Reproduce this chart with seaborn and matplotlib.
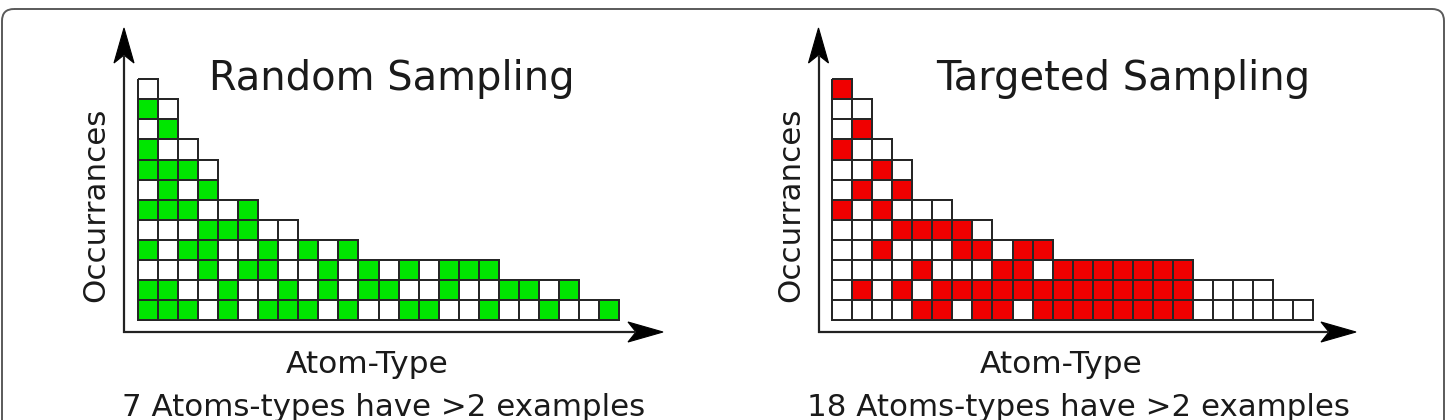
import numpy as np
import matplotlib
matplotlib.use("Agg")
import matplotlib.pyplot as plt
from matplotlib.colors import ListedColormap
from matplotlib.patches import Polygon, FancyBboxPatch
import seaborn as sns

# ---------------- data ----------------
# Each inner list is one atom-type column, cells listed from the bottom up
# (1 = sampled/coloured, 0 = empty box)
random_cells = [
    [1, 1, 0, 1, 0, 1, 0, 1, 1, 0, 1, 0],
    [1, 1, 0, 0, 0, 1, 1, 1, 0, 1, 0],
    [1, 0, 0, 1, 0, 1, 0, 1, 0],
    [0, 0, 1, 1, 1, 0, 1, 0],
    [1, 1, 0, 0, 1, 0],
    [0, 0, 1, 0, 1, 1],
    [1, 0, 1, 1, 0],
    [1, 1, 0, 0, 0],
    [1, 0, 0, 1],
    [0, 1, 1, 0],
    [1, 0, 0, 1],
    [0, 1, 1],
    [0, 1, 0],
    [1, 0, 1],
    [1, 0, 0],
    [0, 1, 1],
    [0, 0, 1],
    [1, 0, 1],
    [0, 1],
    [0, 1],
    [1, 0],
    [0, 1],
    [0],
    [1],
]

targeted_cells = [
    [0, 0, 0, 0, 0, 1, 0, 0, 1, 0, 0, 1],
    [0, 1, 0, 0, 0, 0, 1, 0, 0, 1, 0],
    [0, 0, 0, 1, 0, 1, 0, 1, 0],
    [0, 1, 0, 0, 1, 0, 1, 0],
    [1, 0, 1, 0, 1, 0],
    [1, 1, 0, 0, 1, 0],
    [0, 1, 0, 1, 1],
    [1, 1, 0, 1, 0],
    [1, 1, 1, 0],
    [0, 1, 1, 1],
    [1, 1, 0, 1],
    [1, 1, 1],
    [1, 1, 1],
    [1, 1, 1],
    [1, 1, 1],
    [1, 1, 1],
    [1, 1, 1],
    [1, 1, 1],
    [0, 0],
    [0, 0],
    [0, 0],
    [0, 0],
    [0],
    [0],
]

titles = ["Random Sampling", "Targeted Sampling"]
x_label = "Atom-Type"
y_label = "Occurrances"
captions = ["7 Atoms-types have >2 examples", "18 Atoms-types have >2 examples"]
fill_colors = ["#00e600", "#f00000"]

# ---------------- figure ----------------
sns.set_style("white")
plt.rcParams["font.family"] = ["DejaVu Sans"]

W, H = 1446, 420
fig = plt.figure(figsize=(W / 100, H / 100), dpi=100)
fig.patch.set_facecolor("white")

# overlay axes in pixel coordinates (y downwards)
ov = fig.add_axes([0, 0, 1, 1])
ov.set_xlim(0, W)
ov.set_ylim(H, 0)
ov.axis("off")

# rounded outer frame
frame = FancyBboxPatch((2, 9), W - 4, 460,
                       boxstyle="round,pad=0,rounding_size=12",
                       fill=False, ec="#5a5a5a", lw=1.4)
ov.add_patch(frame)

txt_color = "#1a1a1a"
edge_color = (0.15, 0.15, 0.15, 1.0)
grid_left = [137.8, 832.0]
grid_width = 481.5
grid_bottom = 320.0
n_rows = 12
cell_h = 20.06

axis_x = [124.0, 818.5]
axis_y = 332.0
arrow_tip_x = [663.0, 1356.0]
arrow_tip_y = 28.0
title_cx = [392.0, 1123.0]
xlabel_cx = [367.0, 1061.5]
caption_cx = [384.0, 1078.5]
ylabel_cx = [96.0, 790.5]


def arrow_head(tip, direction):
    tx, ty = tip
    L, hw, notch = 35.0, 10.0, 27.0
    if direction == "right":
        pts = [(tx, ty), (tx - L, ty - hw), (tx - notch, ty), (tx - L, ty + hw)]
    else:  # up
        pts = [(tx, ty), (tx - hw, ty + L), (tx, ty + notch), (tx + hw, ty + L)]
    ov.add_patch(Polygon(pts, closed=True, fc="black", ec="black", lw=0.8,
                         joinstyle="miter"))


for i, (cells, color) in enumerate([(random_cells, fill_colors[0]),
                                    (targeted_cells, fill_colors[1])]):
    n_cols = len(cells)
    mat = np.full((n_rows, n_cols), np.nan)
    for c, col in enumerate(cells):
        for r, v in enumerate(col):
            mat[n_rows - 1 - r, c] = v

    gx = fig.add_axes([grid_left[i] / W, (H - grid_bottom) / H,
                       grid_width / W, (n_rows * cell_h) / H])
    sns.heatmap(mat, ax=gx, cmap=ListedColormap(["white", color]),
                vmin=0, vmax=1, cbar=False, linewidths=1.35,
                linecolor=edge_color, xticklabels=False, yticklabels=False)
    mesh = gx.collections[0]
    valid = ~np.isnan(mat).ravel()
    ecs = np.array([edge_color if v else (0, 0, 0, 0) for v in valid])
    mesh.set_edgecolor(ecs)
    mesh.set_clip_on(False)
    gx.axis("off")

    # axes arrows
    ax0 = axis_x[i]
    ov.plot([ax0, ax0], [axis_y + 1, arrow_tip_y + 27], color="#222222",
            lw=1.6, solid_capstyle="butt")
    ov.plot([ax0 - 0.8, arrow_tip_x[i] - 27], [axis_y, axis_y], color="#222222",
            lw=1.6, solid_capstyle="butt")
    arrow_head((arrow_tip_x[i], axis_y), "right")
    arrow_head((ax0, arrow_tip_y), "up")

    # texts
    ov.text(title_cx[i], 90, titles[i], ha="center", va="baseline",
            fontsize=28.8, color=txt_color)
    ov.text(ylabel_cx[i], 205, y_label, ha="center", va="center",
            rotation=90, fontsize=22.3, color=txt_color)
    ov.text(xlabel_cx[i], 373, x_label, ha="center", va="baseline",
            fontsize=22.5, color=txt_color)
    ov.text(caption_cx[i], 416, captions[i], ha="center", va="baseline",
            fontsize=22.2, color=txt_color)

fig.savefig("out.png", dpi=100, facecolor="white")
